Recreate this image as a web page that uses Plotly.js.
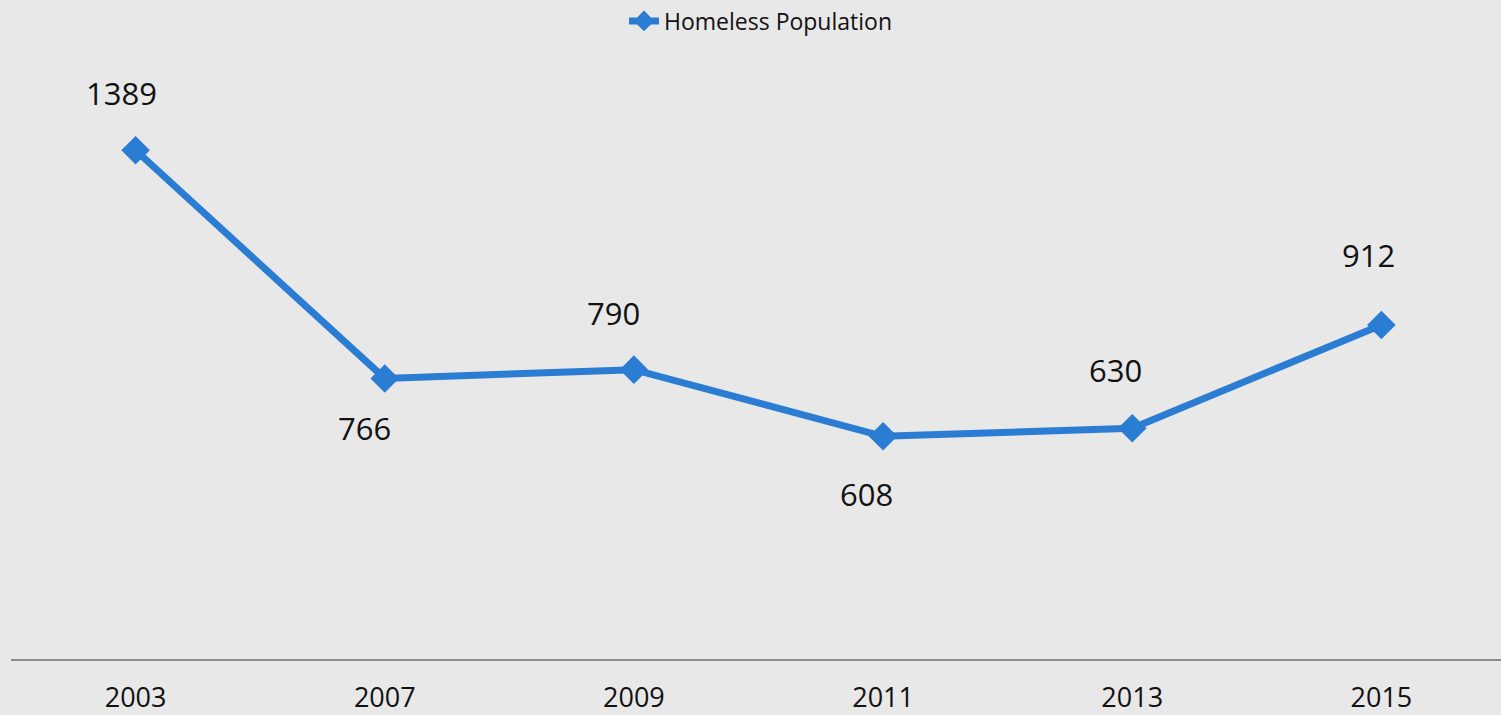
<!DOCTYPE html>
<html><head><meta charset="utf-8">
<script src="https://cdn.plot.ly/plotly-3.0.1.min.js"></script>
<style>html,body{margin:0;padding:0;background:#e8e8e8;}#chart{width:1501px;height:715px;}</style>
</head><body><div id="chart"></div>
<script>
// data
const years = ["2003","2007","2009","2011","2013","2015"];
const homeless = [1389, 766, 790, 608, 630, 912];
const seriesName = "Homeless Population";

// label placement (style, pixel nudges per data label)
const labelDy = [57, -50, 57, -58, 58, 70];
const labelDx = [-14, -20, -20, -17, -17, -13];

const annotations = years.map((y, i) => ({
  x: i, y: homeless[i], xref: "x", yref: "y",
  text: String(homeless[i]), showarrow: false,
  xanchor: "center", yanchor: "middle",
  xshift: labelDx[i], yshift: labelDy[i],
  font: {family: "Open Sans, Liberation Sans, sans-serif", size: 31, color: "#111"}
}));

const trace = {
  x: years, y: homeless, type: "scatter", mode: "lines+markers", name: seriesName,
  line: {color: "#2b7cd3", width: 7},
  marker: {symbol: "diamond", size: 22, color: "#2b7cd3"},
  cliponaxis: false
};

const layout = {
  width: 1501, height: 715,
  paper_bgcolor: "#e8e8e8", plot_bgcolor: "#e8e8e8",
  margin: {l: 11, r: 0, t: 73, b: 56},
  showlegend: true,
  legend: {orientation: "h", x: 0.507, xanchor: "center", xref: "container",
    y: 0.9706, yref: "container", yanchor: "middle",
    font: {family: "Open Sans, Liberation Sans, sans-serif", size: 23, color: "#111"},
    bgcolor: "rgba(0,0,0,0)"},
  xaxis: {type: "category", range: [-0.5, 5.48], showgrid: false, zeroline: false,
    showline: true, linecolor: "#8c8c8c", linewidth: 2,
    ticks: "outside", ticklen: 14, tickcolor: "rgba(0,0,0,0)",
    tickfont: {family: "Open Sans, Liberation Sans, sans-serif", size: 27, color: "#111"}},
  yaxis: {range: [0, 1600], showticklabels: false, showline: false, ticks: "", showgrid: false, zeroline: false},
  annotations: annotations
};
Plotly.newPlot("chart", [trace], layout, {displayModeBar: false});
</script></body></html>
